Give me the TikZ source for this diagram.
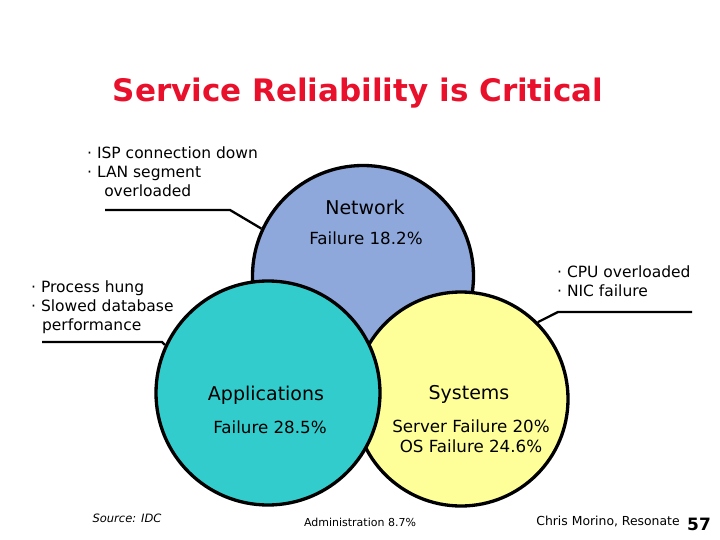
\documentclass[tikz,border=0pt]{standalone}
\usepackage{fontspec}
\setmainfont{DejaVu Sans}
\definecolor{netblue}{HTML}{8FA8DC}
\definecolor{appteal}{HTML}{33CCCC}
\definecolor{sysyellow}{HTML}{FFFF99}
\definecolor{titlered}{HTML}{E8102A}
\begin{document}
\begin{tikzpicture}[x=1pt,y=-1pt,
  circ/.style={draw=black,line width=3.3pt,circle,inner sep=0pt},
  callout/.style={line width=2.3pt},
  lbl/.style={inner sep=0pt,font=\fontsize{19}{21}\selectfont},
  fail/.style={inner sep=0pt,font=\fontsize{16.7}{19}\selectfont},
  note/.style={inner sep=0pt,align=left,font=\fontsize{15.5}{19}\selectfont},
  small/.style={inner sep=0pt,font=\fontsize{11}{13}\selectfont}]
\useasboundingbox (0,0) rectangle (720,540);
% circles
\node[circ,fill=netblue,minimum size=221pt] (net) at (363,276) {};
\node[circ,fill=sysyellow,minimum size=214pt] (sys) at (461,399) {};
\node[circ,fill=appteal,minimum size=224pt] (app) at (268,393) {};
% title
\node[inner sep=0pt,text=titlered,font=\fontsize{31}{36}\bfseries] (title) at (358,93) {Service Reliability is Critical};
% circle texts
\node[lbl] (netname) at (365,207) {Network};
\node[fail] (netfail) at (366,238) {Failure 18.2\%};
\node[lbl] (appname) at (266,395) {Applications};
\node[fail] (appfail) at (270,427) {Failure 28.5\%};
\node[lbl] (sysname) at (469,394) {Systems};
\node[fail] (sysfail1) at (471,426) {Server Failure 20\%};
\node[fail] (sysfail2) at (471,446) {OS Failure 24.6\%};
% notes
\node[note,anchor=north west] (netnote) at (87,147) {· ISP connection down\\· LAN segment\\\hspace*{1.1em}overloaded};
\node[note,anchor=north west] (appnote) at (31,281) {· Process hung\\· Slowed database\\\hspace*{0.7em}performance};
\node[note,anchor=north west] (sysnote) at (557,266) {· CPU overloaded\\· NIC failure};
% callouts
\coordinate (n0) at (105,210);
\coordinate (n1) at (230,210);
\coordinate (a0) at (42,342);
\coordinate (a1) at (162,342);
\coordinate (s0) at (692,312);
\coordinate (s1) at (558,312);
\draw[callout] (n0) -- (n1) -- (net.155);
\draw[callout] (a0) -- (a1) -- (app.155);
\draw[callout] (s0) -- (s1) -- (sys.45);
% footers
\node[small,font=\fontsize{11.5}{13}\itshape] (src) at (127,518) {Source: IDC};
\node[small] (adm) at (360,522) {Administration 8.7\%};
\node[small,font=\fontsize{12.4}{14}\selectfont] (auth) at (608,522) {Chris Morino, Resonate};
\node[inner sep=0pt,font=\fontsize{17}{19}\bfseries] (page) at (699,524) {57};
\end{tikzpicture}
\end{document}
